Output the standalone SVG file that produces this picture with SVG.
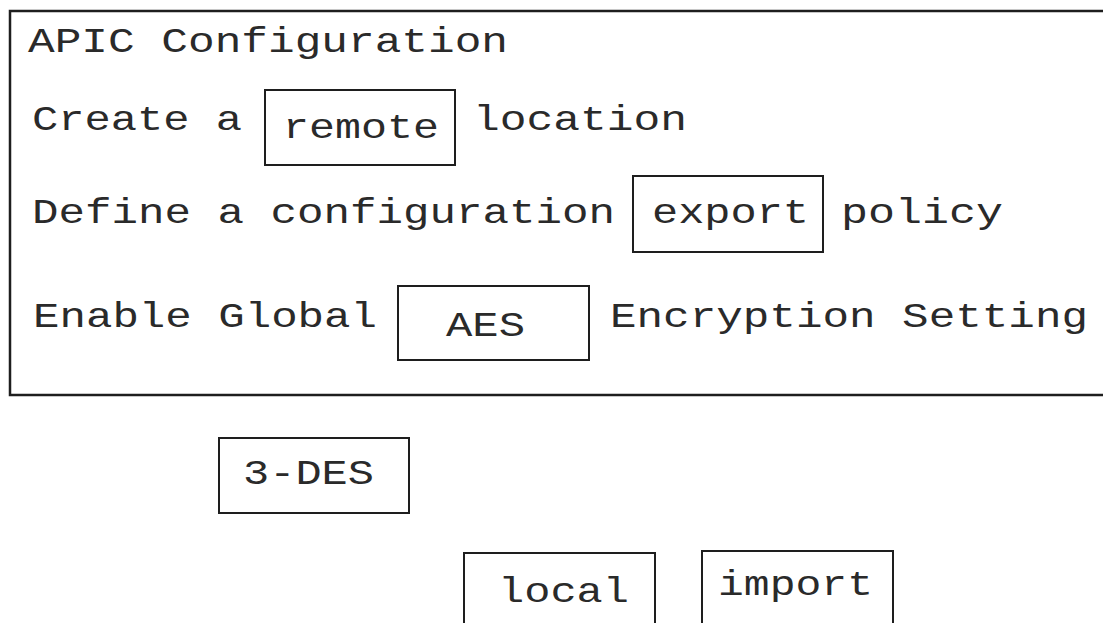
<svg xmlns="http://www.w3.org/2000/svg" width="1103" height="623" viewBox="0 0 1103 623">
  <style>
    .t { font-family: "Courier New", "Liberation Mono", monospace; font-size: 35px; fill: #2a2a2a; }
    .box { fill: none; stroke: #1e1e1e; stroke-width: 2; }
    .outer { fill: none; stroke: #1e1e1e; stroke-width: 2.5; }
  </style>
  <rect width="1103" height="623" fill="#ffffff"/>
  <g id="config-panel">
    <rect class="outer" x="10" y="11" width="1110" height="384"/>
    <text class="t" x="28" y="52" textLength="480" lengthAdjust="spacingAndGlyphs">APIC Configuration</text>
    <text class="t" x="32" y="130" textLength="210" lengthAdjust="spacingAndGlyphs">Create a</text>
    <text class="t" x="473" y="130" textLength="214" lengthAdjust="spacingAndGlyphs">location</text>
    <text class="t" x="32" y="223" textLength="583" lengthAdjust="spacingAndGlyphs">Define a configuration</text>
    <text class="t" x="841" y="223" textLength="162" lengthAdjust="spacingAndGlyphs">policy</text>
    <text class="t" x="33" y="327" textLength="344" lengthAdjust="spacingAndGlyphs">Enable Global</text>
    <text class="t" x="610" y="327" textLength="478" lengthAdjust="spacingAndGlyphs">Encryption Setting</text>
  </g>
  <g id="remote">
    <rect class="box" x="265" y="90" width="190" height="75"/>
    <text class="t" x="283" y="138" textLength="156" lengthAdjust="spacingAndGlyphs">remote</text>
  </g>
  <g id="export">
    <rect class="box" x="633" y="176" width="190" height="76"/>
    <text class="t" x="652" y="223" textLength="157" lengthAdjust="spacingAndGlyphs">export</text>
  </g>
  <g id="aes">
    <rect class="box" x="398" y="286" width="191" height="74"/>
    <text class="t" x="446" y="336" textLength="79" lengthAdjust="spacingAndGlyphs">AES</text>
  </g>
  <g id="des3">
    <rect class="box" x="219" y="438" width="190" height="75"/>
    <text class="t" x="243" y="484" textLength="131" lengthAdjust="spacingAndGlyphs">3-DES</text>
  </g>
  <g id="local">
    <rect class="box" x="464" y="553" width="191" height="80"/>
    <text class="t" x="498" y="602" textLength="131" lengthAdjust="spacingAndGlyphs">local</text>
  </g>
  <g id="import">
    <rect class="box" x="702" y="551" width="191" height="82"/>
    <text class="t" x="718" y="595" textLength="155" lengthAdjust="spacingAndGlyphs">import</text>
  </g>
  <g id="connectors"></g>
</svg>
